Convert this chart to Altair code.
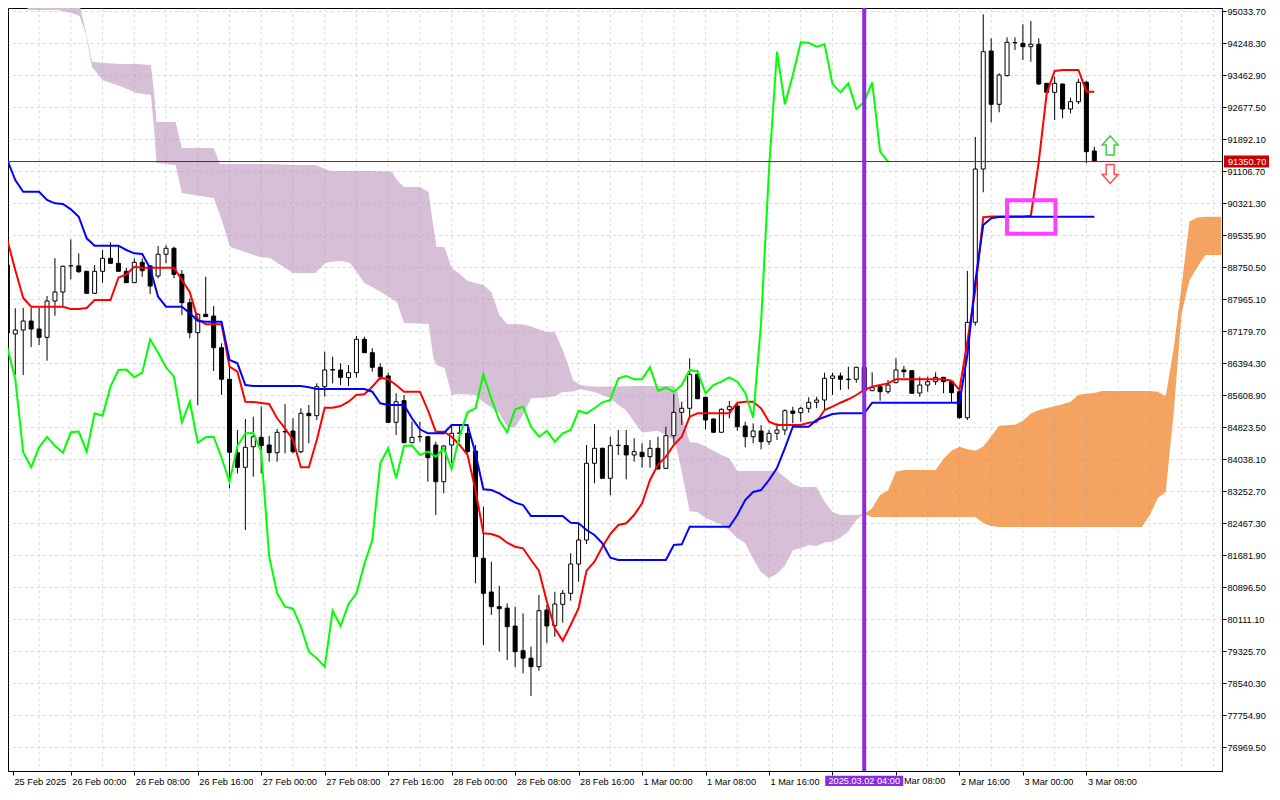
import altair as alt
import pandas as pd

FONT = "Liberation Sans"

# ---------------- data (hourly bars, index 0 = 25 Feb 2025 16:00) ----------------
opens = [88812, 87119, 87217, 87437, 87241, 87037, 87928, 88149, 88790, 88790,
         88657, 88117, 88657, 88976, 88853, 88657, 88378, 88878, 88790, 88542,
         89075, 89222, 88583, 87887, 87150, 87602, 87560, 86782, 86007, 84205,
         83846, 84352, 84582, 84394, 84205, 84715, 84737, 84230, 85172, 85114,
         85825, 86235, 86235, 86047, 86169, 86988, 86659, 86301, 86089, 84951,
         85482, 84450, 84600, 84597, 84394, 83493, 84394, 84680, 84681, 84247,
         81612, 80786, 80426, 80389, 79950, 79346, 79162, 78953, 80344, 79958,
         80483, 80754, 81474, 82062, 83945, 84313, 83577, 84390, 84382, 84149,
         84215, 84107, 84313, 83821, 84622, 85196, 85295, 86129, 85565, 85032,
         84706, 85262, 85351, 84860, 84597, 84738, 84475, 84681, 84762, 85228,
         85187, 85295, 85442, 85498, 86030, 86089, 86000, 86007, 86301, 85727,
         85825, 85702, 85923, 86235, 86218, 85670, 85866, 85948, 86055, 85948,
         85702, 85064, 87405, 91168, 94064, 92756, 93459, 94270, 94253, 94170,
         94229, 93270, 93050, 93254, 92641, 92820, 93296, 91610]
highs = [88950, 87750, 87760, 87764, 87757, 88051, 88976, 88800, 89443, 89099,
         88670, 88812, 89180, 89370, 89286, 88745, 88976, 88976, 88800, 89279,
         89303, 89262, 88689, 87994, 87626, 88525, 87806, 86890, 86316, 84762,
         85032, 85089, 85334, 84615, 84787, 85400, 85049, 85295, 85376, 85908,
         86684, 86561, 86399, 86358, 87069, 87053, 86767, 86399, 86169, 85663,
         85621, 84966, 84966, 84620, 84475, 84394, 84885, 84885, 84811, 84394,
         82880, 81530, 80933, 80508, 80426, 80263, 79444, 80713, 80467, 80793,
         80835, 81736, 82455, 84394, 84910, 84330, 84597, 84762, 84762, 84558,
         84436, 84517, 84597, 84843, 85646, 85457, 86522, 86235, 85580, 85050,
         85295, 85474, 85417, 84966, 84926, 84885, 84762, 84926, 85270, 85334,
         85334, 85565, 85579, 86169, 86169, 86170, 86316, 86316, 86420, 86178,
         85830, 85989, 86522, 86333, 86230, 86070, 86070, 86178, 86060, 85955,
         85780, 88665, 91953, 94965, 94376, 93517, 94400, 94400, 94720, 94800,
         94376, 93280, 93433, 93260, 92918, 93380, 93330, 91715]
lows = [86950, 86120, 86110, 86800, 86849, 86463, 87567, 87789, 88461, 88620,
        88100, 88100, 88378, 88850, 88650, 88370, 88370, 88525, 88100, 88485,
        88853, 88485, 87584, 87013, 85376, 87540, 86210, 85621, 83331, 83699,
        82308, 83616, 83699, 83984, 83984, 84190, 84190, 84190, 84436, 85008,
        85579, 85908, 85866, 85842, 86047, 86650, 86193, 85989, 84940, 84640,
        84440, 84436, 84475, 83493, 82676, 83209, 83945, 84470, 84200, 80999,
        79485, 80222, 79321, 79117, 78938, 78790, 78233, 78854, 79527, 79689,
        80033, 80573, 81039, 81964, 83454, 83570, 83167, 84149, 83552, 83984,
        83837, 83837, 83800, 83810, 84436, 84885, 85049, 85520, 84779, 84700,
        84700, 85049, 84745, 84337, 84436, 84288, 84394, 84517, 84640, 84926,
        84966, 85187, 85295, 85236, 85621, 85744, 85761, 85925, 85700, 85720,
        85481, 85646, 85908, 86047, 85650, 85579, 85702, 85866, 85663, 85442,
        85040, 85008, 87322, 90596, 92314, 92560, 93440, 94089, 93843, 93802,
        93230, 93040, 92371, 92412, 92535, 92760, 91308, 91350.7]
closes = [87143, 87217, 87437, 87241, 87037, 87928, 88149, 88780, 88795, 88648,
          88117, 88657, 88976, 88853, 88657, 88378, 88878, 88672, 88296, 89075,
          89222, 88583, 87887, 87150, 87602, 87545, 86782, 86007, 84215, 83846,
          84337, 84597, 84377, 84205, 84706, 84725, 84230, 85172, 85114, 85825,
          86235, 86245, 86055, 86169, 86988, 86659, 86301, 86070, 84951, 85457,
          84450, 84582, 84597, 84082, 83493, 84369, 84681, 84690, 84230, 81652,
          80754, 80426, 80377, 79934, 79321, 79162, 78953, 80327, 79952, 80491,
          80754, 81474, 82062, 83945, 84313, 83577, 84377, 84382, 84149, 84230,
          84107, 84313, 83805, 84622, 85196, 85295, 86129, 85530, 85008, 84706,
          85270, 85334, 84843, 84597, 84738, 84475, 84681, 84762, 85236, 85172,
          85295, 85442, 85498, 86030, 86089, 86007, 86010, 86301, 85727, 85800,
          85702, 85866, 86235, 86193, 85663, 85866, 85948, 86055, 85948, 85677,
          85064, 87405, 91168, 94047, 92756, 93475, 94278, 94265, 94170, 94229,
          93254, 93050, 93270, 92641, 92820, 93296, 91593, 91350.7]

tenkan = [89425, 88689, 88002, 87788, 87788, 87788, 87788, 87788, 87732, 87732,
          87756, 87953, 87953, 87953, 88500, 88584, 88770, 88746, 88746, 88746,
          88746, 88746, 88444, 88142, 87479, 87356, 87356, 87356, 86316, 86193,
          85457, 85450, 85425, 85400, 85049, 84804, 84517, 83846, 83846, 84517,
          85309, 85309, 85351, 85457, 85621, 85638, 85825, 86046, 86007, 85866,
          85702, 85702, 85702, 85253, 84720, 84720, 84598, 84394, 84149, 83289,
          82227, 82210, 82143, 81996, 81898, 81859, 81571, 81309, 80548, 79895,
          79591, 79976, 80386, 81309, 81530, 81898, 82209, 82430, 82472, 82676,
          82963, 83535, 83906, 84107, 84394, 84598, 85089, 85172, 85172, 85172,
          85172, 85172, 85432, 85457, 85457, 85295, 84966, 84885, 84885, 84885,
          84885, 84941, 84966, 85253, 85334, 85432, 85516, 85621, 85744, 85825,
          85866, 85907, 86006, 86006, 86006, 86006, 86006, 86006, 86006, 85972,
          85744, 86929, 88198, 89983, 90000, 90000, 90000, 90000, 90000, 90022,
          91347, 93026, 93573, 93598, 93598, 93598, 93065, 93065]
kijun = [91389, 90898, 90611, 90611, 90611, 90407, 90326, 90309, 90179, 89997,
         89467, 89285, 89285, 89285, 89285, 89180, 89099, 89082, 88731, 88034,
         87789, 87789, 87789, 87626, 87445, 87420, 87420, 87420, 86480, 86399,
         85866, 85842, 85842, 85842, 85842, 85842, 85842, 85842, 85810, 85768,
         85768, 85768, 85768, 85768, 85768, 85768, 85702, 85417, 85376, 85376,
         85376, 85049, 84779, 84681, 84681, 84681, 84885, 84885, 84885, 84190,
         83307, 83290, 83208, 83086, 82978, 82921, 82651, 82651, 82651, 82651,
         82651, 82487, 82472, 82308, 82185, 81981, 81627, 81571, 81571, 81571,
         81571, 81571, 81571, 81571, 81940, 81957, 82389, 82389, 82389, 82389,
         82389, 82389, 82676, 83044, 83240, 83289, 83535, 83829, 84320, 84843,
         84843, 84843, 85008, 85081, 85155, 85172, 85172, 85172, 85172, 85432,
         85432, 85432, 85432, 85432, 85432, 85432, 85432, 85432, 85432, 85432,
         85432, 86603, 88402, 89794, 89958, 89990, 89997, 89997, 89997, 89997,
         89997, 89997, 89997, 89997, 89997, 89997, 89997, 89997]
CHIKOU_SHIFT = 26  # lagging span = close plotted 26 bars back

# Kumo, bearish part (span B above span A)
thistle_bars = [2.55, 6.3, 8.1, 9.1, 9.9, 10.7, 11, 12, 14.5, 16.3, 18.1, 18.5, 18.8, 21.2, 22, 26, 26.8,
                28.1, 31.8, 33.1, 36, 38.8, 40.1, 40.7, 42.2, 43.2, 44.3, 45, 46.2, 48.1, 48.5, 49.1,
                50, 52, 53.1, 53.7, 54.1, 55.1, 56, 57, 58, 59, 60, 61, 62, 63, 64, 65, 66, 68, 69,
                70, 70.6, 71.3, 72.2, 74, 76, 77, 78, 79, 80, 82, 83, 84, 84.5, 85, 86, 87, 88, 90,
                91, 92, 93, 94, 95, 96, 97, 98, 99, 100, 101, 102, 103, 104, 105, 106, 107, 108]
thistle_span_b = [95300, 95300, 95300, 95193, 94531, 93794, 93794, 93770, 93745, 93745, 93721, 93033,
                  92322, 92322, 91683, 91683, 91291, 91291, 91291, 91291, 91266, 91266, 91168, 91119,
                  91119, 91119, 91119, 91119, 91119, 91107, 91094, 90898, 90726, 90726, 90604, 89745,
                  89254, 89254, 88738, 88600, 88420, 88370, 88321, 88149, 87585, 87364, 87364, 87350,
                  87300, 87168, 87168, 86726, 86406, 85989, 85867, 85825, 85830, 85835, 85838, 85840,
                  85842, 85842, 85842, 85842, 85671, 85100, 84467, 84443, 84360, 84150, 84067, 83756,
                  83756, 83756, 83756, 83756, 83756, 83600, 83437, 83363, 83363, 83363, 83000, 82749,
                  82676, 82676, 82676, 82700]
thistle_span_a = [95070, 95070, 94997, 94923, 94482, 93647, 93598, 93352, 93181, 93033, 92984, 92125,
                  91315, 91266, 90579, 90456, 90039, 89254, 89008, 88984, 88615, 88615, 88861, 88886,
                  88910, 88861, 88566, 88370, 88247, 88026, 87977, 87904, 87388, 87376, 87364, 86529,
                  86357, 86284, 85622, 85646, 85634, 85621, 85446, 85323, 85180, 84844, 84828, 85143,
                  85539, 85560, 85590, 85695, 85700, 85705, 85764, 85692, 85539, 85376, 85240, 84967,
                  84700, 84741, 84640, 84517, 84200, 83740, 82767, 82750, 82600, 82438, 82300, 82111,
                  81980, 81600, 81273, 81121, 81232, 81429, 81809, 81858, 81940, 81918, 82000, 82022,
                  82124, 82267, 82553, 82700]
# Kumo, bullish future part (span A above span B)
sandy_bars = [108, 109, 110, 111, 112, 113, 117, 118, 119, 120, 121, 122, 123, 124, 125, 127, 128, 129,
              130, 131, 132, 133, 134, 135, 136, 137, 138, 143, 144, 145, 146, 147, 148, 149, 150, 151, 153]
sandy_span_a = [82700, 82839, 83167, 83277, 83739, 83780, 83780, 84054, 84250, 84348, 84292, 84250,
                84357, 84602, 84864, 84892, 84987, 85167, 85244, 85302, 85344, 85396, 85458, 85628,
                85649, 85670, 85719, 85719, 85719, 85702, 85588, 86766, 88300, 89888, 89979, 89995, 89998]
sandy_span_b = [82700, 82627, 82627, 82627, 82627, 82627, 82627, 82627, 82627, 82627, 82627, 82627,
                82479, 82406, 82381, 82381, 82381, 82381, 82381, 82381, 82381, 82381, 82381, 82381,
                82381, 82381, 82381, 82381, 82676, 83093, 83240, 85180, 87630, 88440, 88770, 89057, 89057]

# time axis: every 8 bars; the 2 Mar 00:00 label is hidden under the marker's time box and
# only "Mar 08:00" of the next one shows beside it
time_tick_bars = [0, 8, 16, 24, 32, 40, 48, 56, 64, 72, 80, 88, 96, 104, 112, 120, 128, 136]
time_tick_labels = ["25 Feb 2025", "26 Feb 00:00", "26 Feb 08:00", "26 Feb 16:00", "27 Feb 00:00",
                    "27 Feb 08:00", "27 Feb 16:00", "28 Feb 00:00", "28 Feb 08:00", "28 Feb 16:00",
                    "1 Mar 00:00", "1 Mar 08:00", "1 Mar 16:00", "", "",
                    "2 Mar 16:00", "3 Mar 00:00", "3 Mar 08:00"]
partial_label_bar = 112
partial_label_text = "Mar 08:00"
price_ticks = [95033.70, 94248.30, 93462.90, 92677.50, 91892.10, 91106.70, 90321.30, 89535.90,
               88750.50, 87965.10, 87179.70, 86394.30, 85608.90, 84823.50, 84038.10, 83252.70,
               82467.30, 81681.90, 80896.50, 80111.10, 79325.70, 78540.30, 77754.90, 76969.50]
grid_bars = list(range(0, 156, 4))

current_price = 91350.70
marker_bar = 108
marker_label = "2025.03.02 04:00"
box_bars = [126, 132.1]
box_prices = [89580, 90400]
arrow_bar = 139
arrow_up_price = 91745
arrow_down_price = 91045

# ---------------- layout ----------------
W, H = 1214, 763
PX_PER_BAR = 8.0
PRICE_PER_PX = 24.54375
X_MIN = 0.7125
X_MAX = X_MIN + W / PX_PER_BAR
Y_MAX = 95119.6
Y_MIN = Y_MAX - H * PRICE_PER_PX

xs = alt.Scale(domain=[X_MIN, X_MAX], nice=False, zero=False)
ys = alt.Scale(domain=[Y_MIN, Y_MAX], nice=False, zero=False)

tick_vals = [max(b, X_MIN) for b in time_tick_bars]
expr = " : ".join(f"abs(datum.value - {v}) < 0.01 ? '{lab}'" for v, lab in zip(tick_vals, time_tick_labels)) + " : ''"

x_axis = alt.Axis(orient="bottom", values=tick_vals, labelExpr=expr, grid=False, title=None,
                  tickSize=4, tickColor="black", domainColor="black", labelColor="black",
                  labelFont=FONT, labelFontSize=9.2, labelAlign="left", labelBaseline="top",
                  labelPadding=2, labelOffset=1, labelFlush=False, labelOverlap=False)
y_axis = alt.Axis(orient="right", values=price_ticks, format=".2f", grid=False, title=None,
                  tickSize=4, tickColor="black", domainColor="black", labelColor="black",
                  labelFont=FONT, labelFontSize=9.2, labelPadding=1, labelFlush=False,
                  labelOverlap=False, labelBaseline="middle")

def X(f):
    return alt.X(f, type="quantitative", scale=xs, axis=x_axis)

def Y(f):
    return alt.Y(f, type="quantitative", scale=ys, axis=y_axis)

# ---------------- frames ----------------
candles = pd.DataFrame({"bar": list(range(len(opens))), "open": opens, "high": highs,
                        "low": lows, "close": closes})
candles["fill"] = ["white" if c >= o else "black" for o, c in zip(opens, closes)]
lines = pd.DataFrame({"bar": list(range(len(tenkan))), "tenkan": tenkan, "kijun": kijun})
chikou = pd.DataFrame({"bar": [i - CHIKOU_SHIFT for i in range(CHIKOU_SHIFT, len(closes))],
                       "v": closes[CHIKOU_SHIFT:]})
thistle = pd.DataFrame({"bar": thistle_bars, "top": thistle_span_b, "bot": thistle_span_a})
sandy = pd.DataFrame({"bar": sandy_bars, "top": sandy_span_a, "bot": sandy_span_b})
vgrid = pd.DataFrame({"bar": grid_bars})
hgrid = pd.DataFrame({"price": price_ticks})
cur = pd.DataFrame({"price": [current_price], "label": [f"{current_price:.2f}"]})
sig = pd.DataFrame({"bar": [marker_bar], "label": [marker_label]})
part = pd.DataFrame({"bar": [partial_label_bar], "label": [partial_label_text]})
box = pd.DataFrame({"x1": [box_bars[0]], "x2": [box_bars[1]], "p1": [box_prices[0]], "p2": [box_prices[1]]})
up = pd.DataFrame({"bar": [arrow_bar], "price": [arrow_up_price]})
dn = pd.DataFrame({"bar": [arrow_bar], "price": [arrow_down_price]})

UP_PATH = "M0,-1.19L1,-0.06L0.5,-0.06L0.5,1.19L-0.5,1.19L-0.5,-0.06L-1,-0.06Z"
DN_PATH = "M0,1.19L1,0.06L0.5,0.06L0.5,-1.19L-0.5,-1.19L-0.5,0.06L-1,0.06Z"

layers = [
    alt.Chart(thistle).mark_area(color="#D8BFD8", clip=True).encode(x=X("bar"), y=Y("top"), y2="bot"),
    alt.Chart(sandy).mark_area(color="#F4A460", clip=True).encode(x=X("bar"), y=Y("top"), y2="bot"),
    alt.Chart(vgrid).mark_rule(color="#9a9a9a", opacity=0.35, strokeDash=[3, 3], strokeWidth=1, clip=True).encode(x=X("bar")),
    alt.Chart(hgrid).mark_rule(color="#9a9a9a", opacity=0.35, strokeDash=[3, 3], strokeWidth=1, clip=True).encode(y=Y("price")),
    alt.Chart(candles).mark_rule(color="black", strokeWidth=1, clip=True).encode(x=X("bar"), y=Y("low"), y2="high"),
    alt.Chart(candles).mark_bar(size=4, stroke="black", strokeWidth=1, clip=True).encode(
        x=X("bar"), y=Y("open"), y2="close", fill=alt.Fill("fill:N", scale=None)),
    alt.Chart(lines).mark_line(color="#FF0000", strokeWidth=2, clip=True).encode(x=X("bar"), y=Y("tenkan")),
    alt.Chart(lines).mark_line(color="#0000FF", strokeWidth=2, clip=True).encode(x=X("bar"), y=Y("kijun")),
    alt.Chart(chikou).mark_line(color="#00FF00", strokeWidth=2, clip=True).encode(x=X("bar"), y=Y("v")),
    alt.Chart(cur).mark_rule(color="#C00000", strokeWidth=1, clip=True).encode(y=Y("price")),
    alt.Chart(sig).mark_rule(color="#8A2BE2", strokeWidth=4, clip=True).encode(x=X("bar")),
    alt.Chart(box).mark_rect(filled=False, stroke="#FF40FF", strokeWidth=4, clip=True).encode(
        x=X("x1"), x2="x2", y=Y("p1"), y2="p2"),
    alt.Chart(up).mark_point(shape=UP_PATH, size=256, filled=True, fill="white", stroke="#44CC44",
                             strokeWidth=1.5, opacity=1, clip=True).encode(x=X("bar"), y=Y("price")),
    alt.Chart(dn).mark_point(shape=DN_PATH, size=256, filled=True, fill="white", stroke="#FF5050",
                             strokeWidth=1.5, opacity=1, clip=True).encode(x=X("bar"), y=Y("price")),
    alt.Chart(cur).mark_rect(color="#C80000", yOffset=-6, y2Offset=6, clip=False).encode(
        x=alt.value(W + 2), x2=alt.value(W + 47), y=Y("price"), y2="price"),
    alt.Chart(cur).mark_text(color="white", font=FONT, fontSize=9.2, align="left", baseline="middle",
                             clip=False).encode(x=alt.value(W + 6), y=Y("price"), text="label:N"),
    alt.Chart(sig).mark_rect(color="#8A2BE2", xOffset=-39, x2Offset=39, clip=False).encode(
        x=X("bar"), x2="bar", y=alt.value(H + 4.7), y2=alt.value(H + 15)),
    alt.Chart(sig).mark_text(color="white", font=FONT, fontSize=9.2, align="center", baseline="middle",
                             clip=False).encode(x=X("bar"), y=alt.value(H + 10.2), text="label:N"),
    alt.Chart(part).mark_text(color="black", font=FONT, fontSize=9.2, align="left", baseline="top",
                              dx=8, clip=False).encode(x=X("bar"), y=alt.value(H + 6), text="label:N"),
]

chart = alt.layer(*layers).properties(
    width=W, height=H,
    padding={"left": 0, "top": 0, "right": 50, "bottom": 16},
    autosize=alt.AutoSizeParams(type="none"),
    background="white",
).configure_view(stroke="black", strokeWidth=1)

chart.save("out.html", embed_options={"renderer": "svg", "actions": False})
